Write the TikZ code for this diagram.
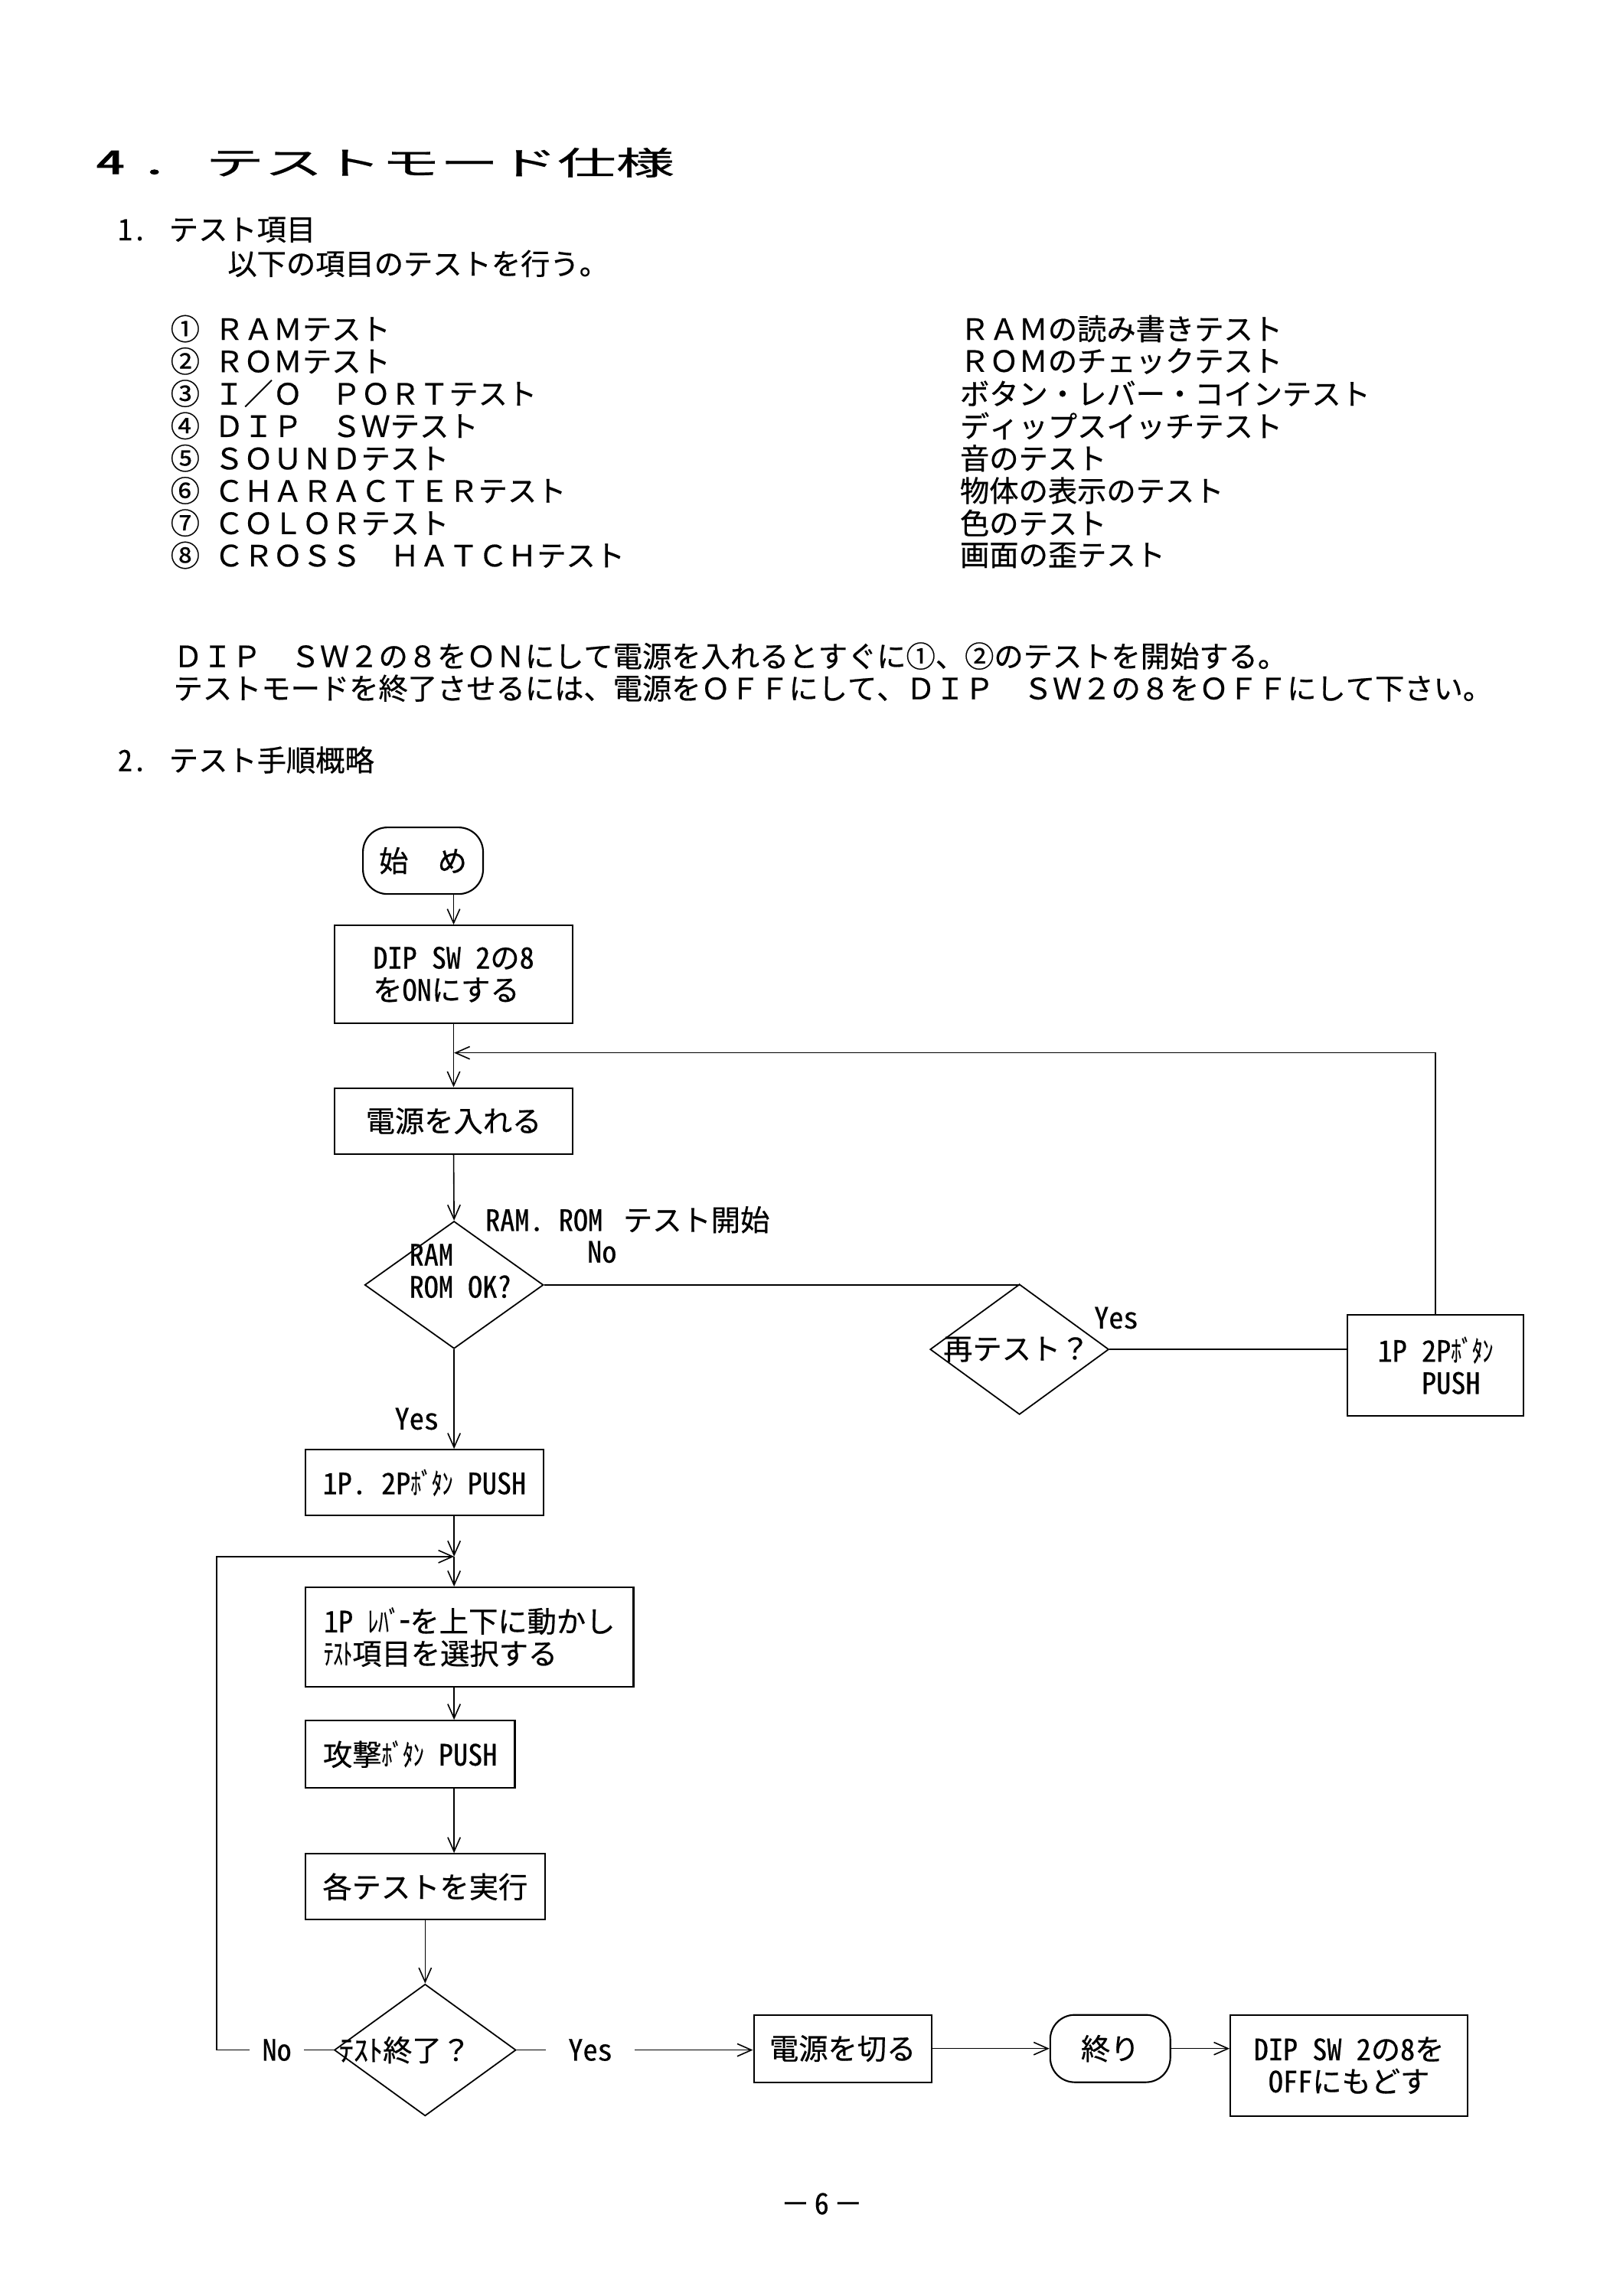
\documentclass[tikz,border=0pt]{standalone}
\usepackage{fontspec}
\setmainfont{Noto Sans Mono CJK JP}[FakeBold=0.5]
\usepackage{graphicx}
\usetikzlibrary{shapes.geometric,arrows.meta}
\newcommand\hk[1]{\scalebox{0.72}[1]{#1}}
\tikzset{
  tx/.style={inner sep=0pt, font=\fontsize{10.75pt}{11.8pt}\selectfont},
  lt/.style={tx, anchor=west},
  bx/.style 2 args={tx, draw, line width=0.6pt, minimum width=#1*0.5373pt, minimum height=#2*0.5373pt},
  rbx/.style 2 args={bx={#1}{#2}, rounded corners=9pt},
  dm/.style 2 args={draw, diamond, line width=0.5pt, inner sep=0pt, minimum width=#1*0.5373pt, minimum height=#2*0.5373pt},
  arr/.style={-{Straight Barb[length=5.2pt,width=4.6pt]}},
}
\begin{document}
\begin{tikzpicture}[x=0.5373pt,y=-0.5373pt,line width=0.45pt]
\fill[white] (0,0) rectangle (1108,1568);
\useasboundingbox (0,0) rectangle (1108,1568);

% ---------- header ----------
\node[lt] (t4) at (65,111) {\addfontfeature{FakeBold=2}\scalebox{2}[1.1]{4\hspace{.25em}.}};
\node[lt] (ttl) at (140,111) {\scalebox{2}[1.1]{テストモード仕様}};
\node[lt] (h1) at (80,157) {1.\hspace{.75em}テスト項目};
\node[lt] (h1b) at (155,180) {以下の項目のテストを行う。};

\node[lt] (l1) at (116,224.5) {①\hspace{.5em}ＲＡＭテスト};
\node[lt] (l2) at (116,246.6) {②\hspace{.5em}ＲＯＭテスト};
\node[lt] (l3) at (116,268.7) {③\hspace{.5em}Ｉ／Ｏ　ＰＯＲＴテスト};
\node[lt] (l4) at (116,290.8) {④\hspace{.5em}ＤＩＰ　ＳＷテスト};
\node[lt] (l5) at (116,312.9) {⑤\hspace{.5em}ＳＯＵＮＤテスト};
\node[lt] (l6) at (116,335.0) {⑥\hspace{.5em}ＣＨＡＲＡＣＴＥＲテスト};
\node[lt] (l7) at (116,357.1) {⑦\hspace{.5em}ＣＯＬＯＲテスト};
\node[lt] (l8) at (116,379.2) {⑧\hspace{.5em}ＣＲＯＳＳ　ＨＡＴＣＨテスト};

\node[lt] (r1) at (655,224.5) {ＲＡＭの読み書きテスト};
\node[lt] (r2) at (655,246.6) {ＲＯＭのチェックテスト};
\node[lt] (r3) at (655,268.7) {ボタン・レバー・コインテスト};
\node[lt] (r4) at (655,290.8) {ディップスイッチテスト};
\node[lt] (r5) at (655,312.9) {音のテスト};
\node[lt] (r6) at (655,335.0) {物体の表示のテスト};
\node[lt] (r7) at (655,357.1) {色のテスト};
\node[lt] (r8) at (655,379.2) {画面の歪テスト};

\node[lt] (p1) at (118,448) {ＤＩＰ　ＳＷ２の８をＯＮにして電源を入れるとすぐに①、②のテストを開始する。};
\node[lt] (p2) at (118,470) {テストモードを終了させるには、電源をＯＦＦにして、ＤＩＰ　ＳＷ２の８をＯＦＦにして下さい。};
\node[lt] (h2) at (80,519) {2.\hspace{.75em}テスト手順概略};

% ---------- flowchart nodes ----------
\node[rbx={82}{45.5}] (start) at (288.8,587.8) {始　め};
\node[bx={162.7}{67},align=left] (dip) at (309.7,665.5) {DIP SW 2の8\\をONにする};
\node[bx={162.7}{45}] (dengen) at (309.7,765.5) {電源を入れる};
\node[dm={122}{87}] (d1) at (310,877.5) {};
\node[lt,align=left] (d1t) at (279,868) {RAM\\ROM OK?};
\node[dm={122}{89}] (d2) at (696,921.5) {};
\node[tx] (d2t) at (694,921.5) {再テスト？};
\node[bx={120}{69},align=left] (b1p2p) at (980,932.5) {1P 2P\hk{ﾎﾞﾀﾝ}\\\hspace{1.5em}PUSH};
\node[bx={162.5}{45}] (b12) at (289.75,1012.5) {1P.~2P\hk{ﾎﾞﾀﾝ}~PUSH};
\node[bx={224}{68},align=left] (lever) at (320.5,1118) {1P~\hk{ﾚﾊﾞｰ}を上下に動かし\\\scalebox{0.65}[1]{ﾃｽﾄ}項目を選択する};
\node[bx={143}{46}] (kougeki) at (280,1198) {攻撃\hk{ﾎﾞﾀﾝ}~PUSH};
\node[bx={163.5}{45}] (kaku) at (290.25,1288.5) {各テストを実行};
\node[dm={124}{90}] (d3) at (290.25,1400) {};
\node[lt] (d3t) at (231,1400) {ﾃｽﾄ終了？};
\node[bx={121.4}{46}] (kiru) at (575.3,1399) {電源を切る};
\node[rbx={82}{46}] (owari) at (758,1399) {終り};
\node[bx={162}{69},align=center] (dipoff) at (921,1410.5) {DIP SW 2の8を\\OFFにもどす};

% labels
\node[lt] (lbl1) at (331,833) {RAM. ROM\hspace{.7em}テスト開始};
\node[tx] (no1) at (411,855) {No};
\node[tx] (yes1) at (284.5,969) {Yes};
\node[tx] (yes2) at (762,900) {Yes};
\node[tx,inner xsep=4.3pt] (no3) at (189,1400) {No};
\node[tx,inner xsep=8.1pt] (yes3) at (403,1400) {Yes};

\node[tx] (pg) at (561,1505) {－\hspace{.15em}6\hspace{.15em}－};

% junctions
\coordinate (j1) at (310,719);
\coordinate (j2) at (310,1063);
\coordinate (cl) at (148,1400);

% ---------- connectors ----------
\draw[arr] (dip.north |- start.south) -- (dip.north);
\draw[arr] (dip.south) -- (dengen.north);
\draw[arr] (b1p2p.north) |- (j1);
\draw[arr] (dengen.south) -- (d1.north);
\draw (d1.east) -| (d2.north);
\draw (d2.east) -- (d2.east -| b1p2p.west);
\draw[arr] (d1.south) -- (d1.south |- b12.north);
\draw[arr] (j2 |- b12.south) -- (j2);
\draw[arr] (j2) -- (j2 |- lever.north);
\draw[arr] (j2 |- lever.south) -- (j2 |- kougeki.north);
\draw[arr] (j2 |- kougeki.south) -- (j2 |- kaku.north);
\draw[arr] (kaku.south) -- (d3.north);
\draw (d3.west) -- (no3.east);
\draw[arr] (no3.west) -- (cl) |- (j2);
\draw (d3.east) -- (yes3.west);
\draw[arr] (yes3.east) -- (yes3.east -| kiru.west);
\draw[arr] (kiru.east) -- (kiru.east -| owari.west);
\draw[arr] (owari.east) -- (owari.east -| dipoff.west);
\end{tikzpicture}
\end{document}
